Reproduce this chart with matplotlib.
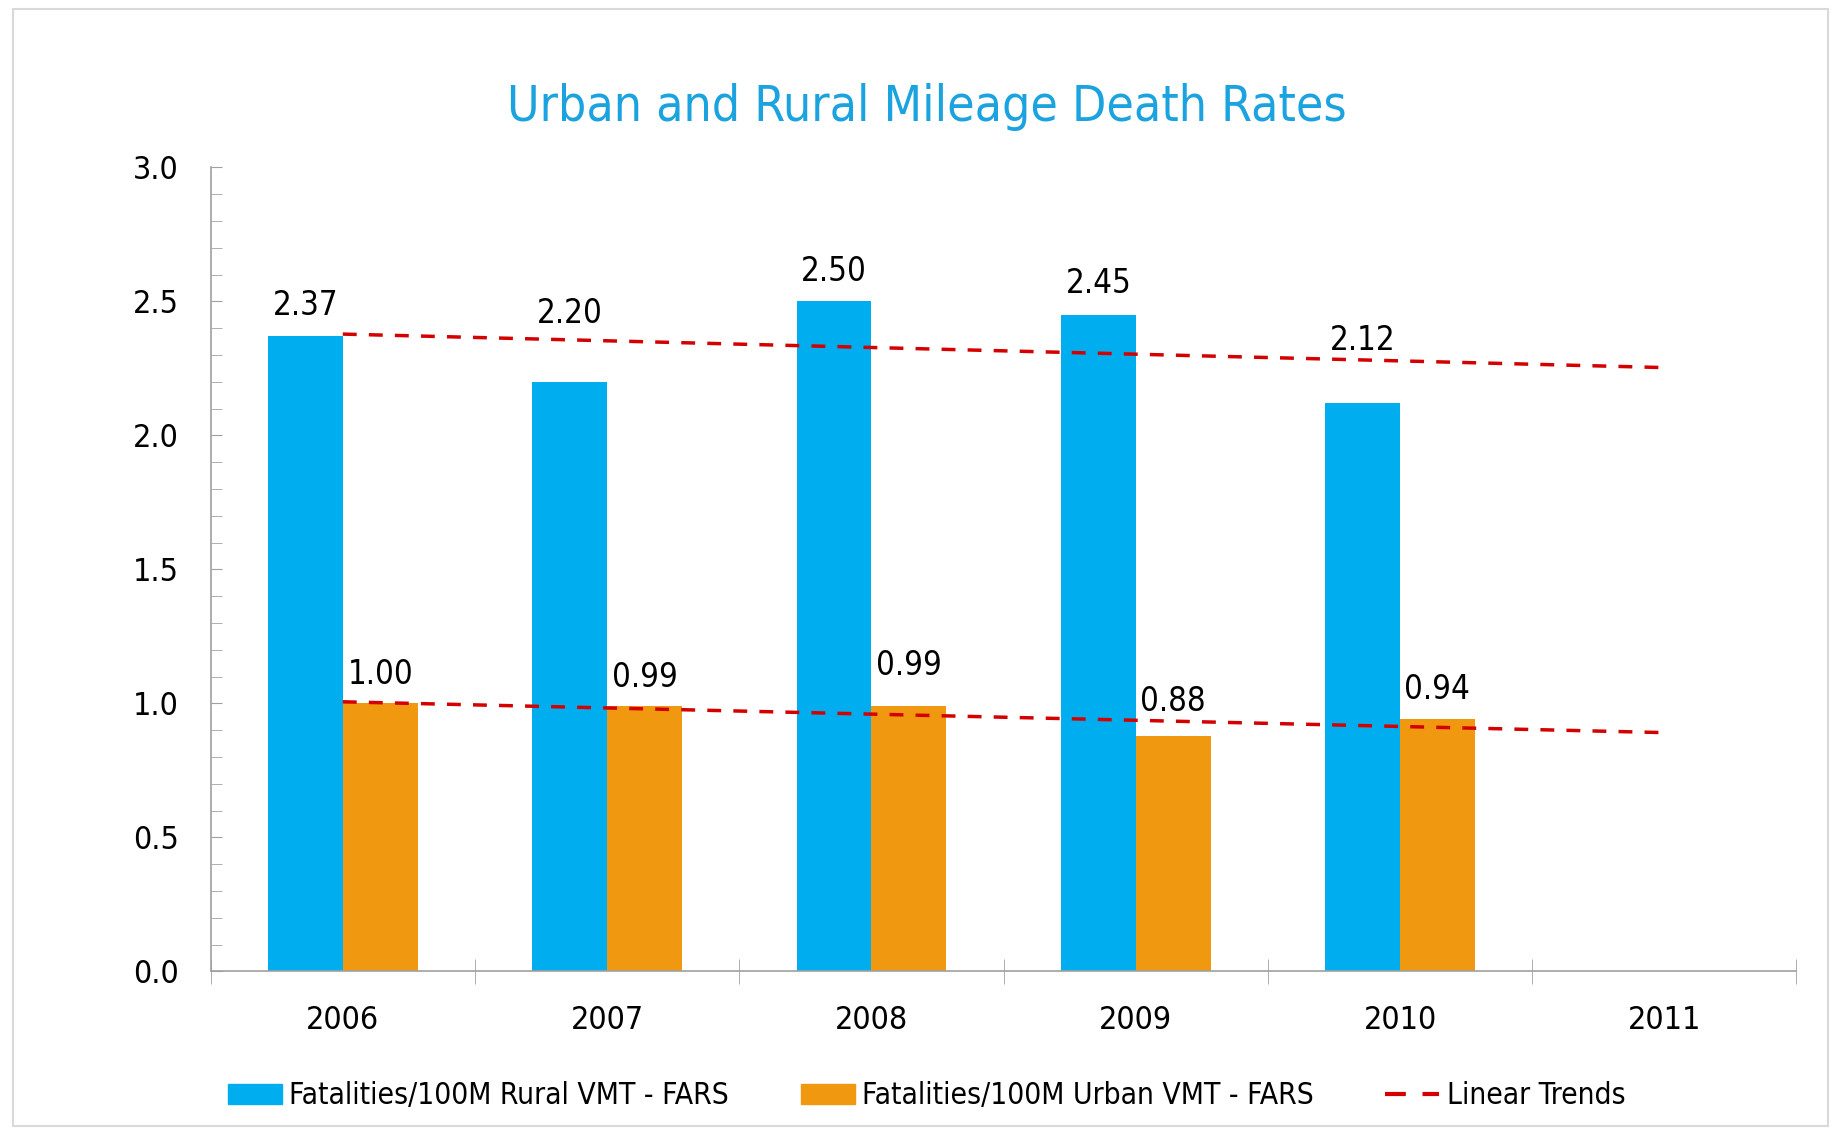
import numpy as np
import matplotlib
matplotlib.use("Agg")
import matplotlib.pyplot as plt
from matplotlib.patches import Rectangle
from matplotlib.lines import Line2D

years = ["2006", "2007", "2008", "2009", "2010", "2011"]
rural = [2.37, 2.20, 2.50, 2.45, 2.12]
urban = [1.00, 0.99, 0.99, 0.88, 0.94]
# vertical offsets (points) of the value labels above each bar
rural_lbl_off = [10, 37, 10, 11, 33]
urban_lbl_off = [9, 9, 17, 13, 10]

BLUE = "#00AEEF"
ORANGE = "#F0980F"
RED = "#D40000"
TITLE_BLUE = "#1BA3E0"

plt.rcParams["font.family"] = ["DejaVu Sans"]
plt.rcParams["font.stretch"] = "condensed"

fig = plt.figure(figsize=(18.35, 11.31), dpi=100)
fig.patches.append(Rectangle((0.007, 0.004), 0.989, 0.988, transform=fig.transFigure,
                             fill=False, edgecolor="#d9d9d9", linewidth=1.5))
ax = fig.add_axes([0.1148, 0.1411, 0.8642, 0.7109])

x = np.arange(len(rural))
w = 0.283
ax.bar(x - w / 2, rural, w, color=BLUE, label="Fatalities/100M Rural VMT - FARS")
ax.bar(x + w / 2, urban, w, color=ORANGE, label="Fatalities/100M Urban VMT - FARS")

for xi, v, off in zip(x, rural, rural_lbl_off):
    ax.annotate(f"{v:.2f}", (xi - w / 2, v), xytext=(0, off), textcoords="offset points",
                ha="center", va="bottom", fontsize=23.7)
for xi, v, off in zip(x, urban, urban_lbl_off):
    ax.annotate(f"{v:.2f}", (xi + w / 2, v), xytext=(0, off), textcoords="offset points",
                ha="center", va="bottom", fontsize=23.7)

# linear trends extended to 2011
xt = np.arange(len(years))
for series in (rural, urban):
    k, b = np.polyfit(x, series, 1)
    ax.plot(xt, k * xt + b, color=RED, linestyle=(0, (4, 3.5)), linewidth=2.5)

ax.set_xlim(-0.5, len(years) - 0.5)
ax.set_ylim(0, 3.0)
ax.set_yticks(np.arange(0, 3.01, 0.5))
ax.set_yticks(np.arange(0, 3.01, 0.1), minor=True)
ax.set_yticklabels([f"{t:.1f}" for t in np.arange(0, 3.01, 0.5)], fontsize=23)
ax.tick_params(axis="y", which="both", direction="in", length=8, color="#a0a0a0",
               pad=23)
ax.set_xticks(xt)
ax.set_xticklabels(years, fontsize=23)
ax.tick_params(axis="x", which="major", length=0, pad=24)
ax.set_xticks(np.arange(-0.5, len(years)), minor=True)
ax.tick_params(axis="x", which="minor", direction="inout", length=18, color="#a0a0a0")

for s in ("top", "right"):
    ax.spines[s].set_visible(False)
for s in ("left", "bottom"):
    ax.spines[s].set_color("#a0a0a0")
    ax.spines[s].set_linewidth(1.2)

fig.text(0.505, 0.905, "Urban and Rural Mileage Death Rates", ha="center", va="center",
         fontsize=35.7, color=TITLE_BLUE)

handles = [Rectangle((0, 0), 1, 1, color=BLUE), Rectangle((0, 0), 1, 1, color=ORANGE),
           Line2D([], [], color=RED, linestyle=(0, (5, 4)), linewidth=3)]
labels = ["Fatalities/100M Rural VMT - FARS", "Fatalities/100M Urban VMT - FARS",
          "Linear Trends"]
fig.legend(handles, labels, loc="center", bbox_to_anchor=(0.505, 0.031), ncol=3,
           frameon=False, fontsize=21.5, handlelength=1.8, handleheight=0.7,
           handletextpad=0.25, columnspacing=2.4)

fig.savefig("out.png", dpi=100, facecolor="white")
